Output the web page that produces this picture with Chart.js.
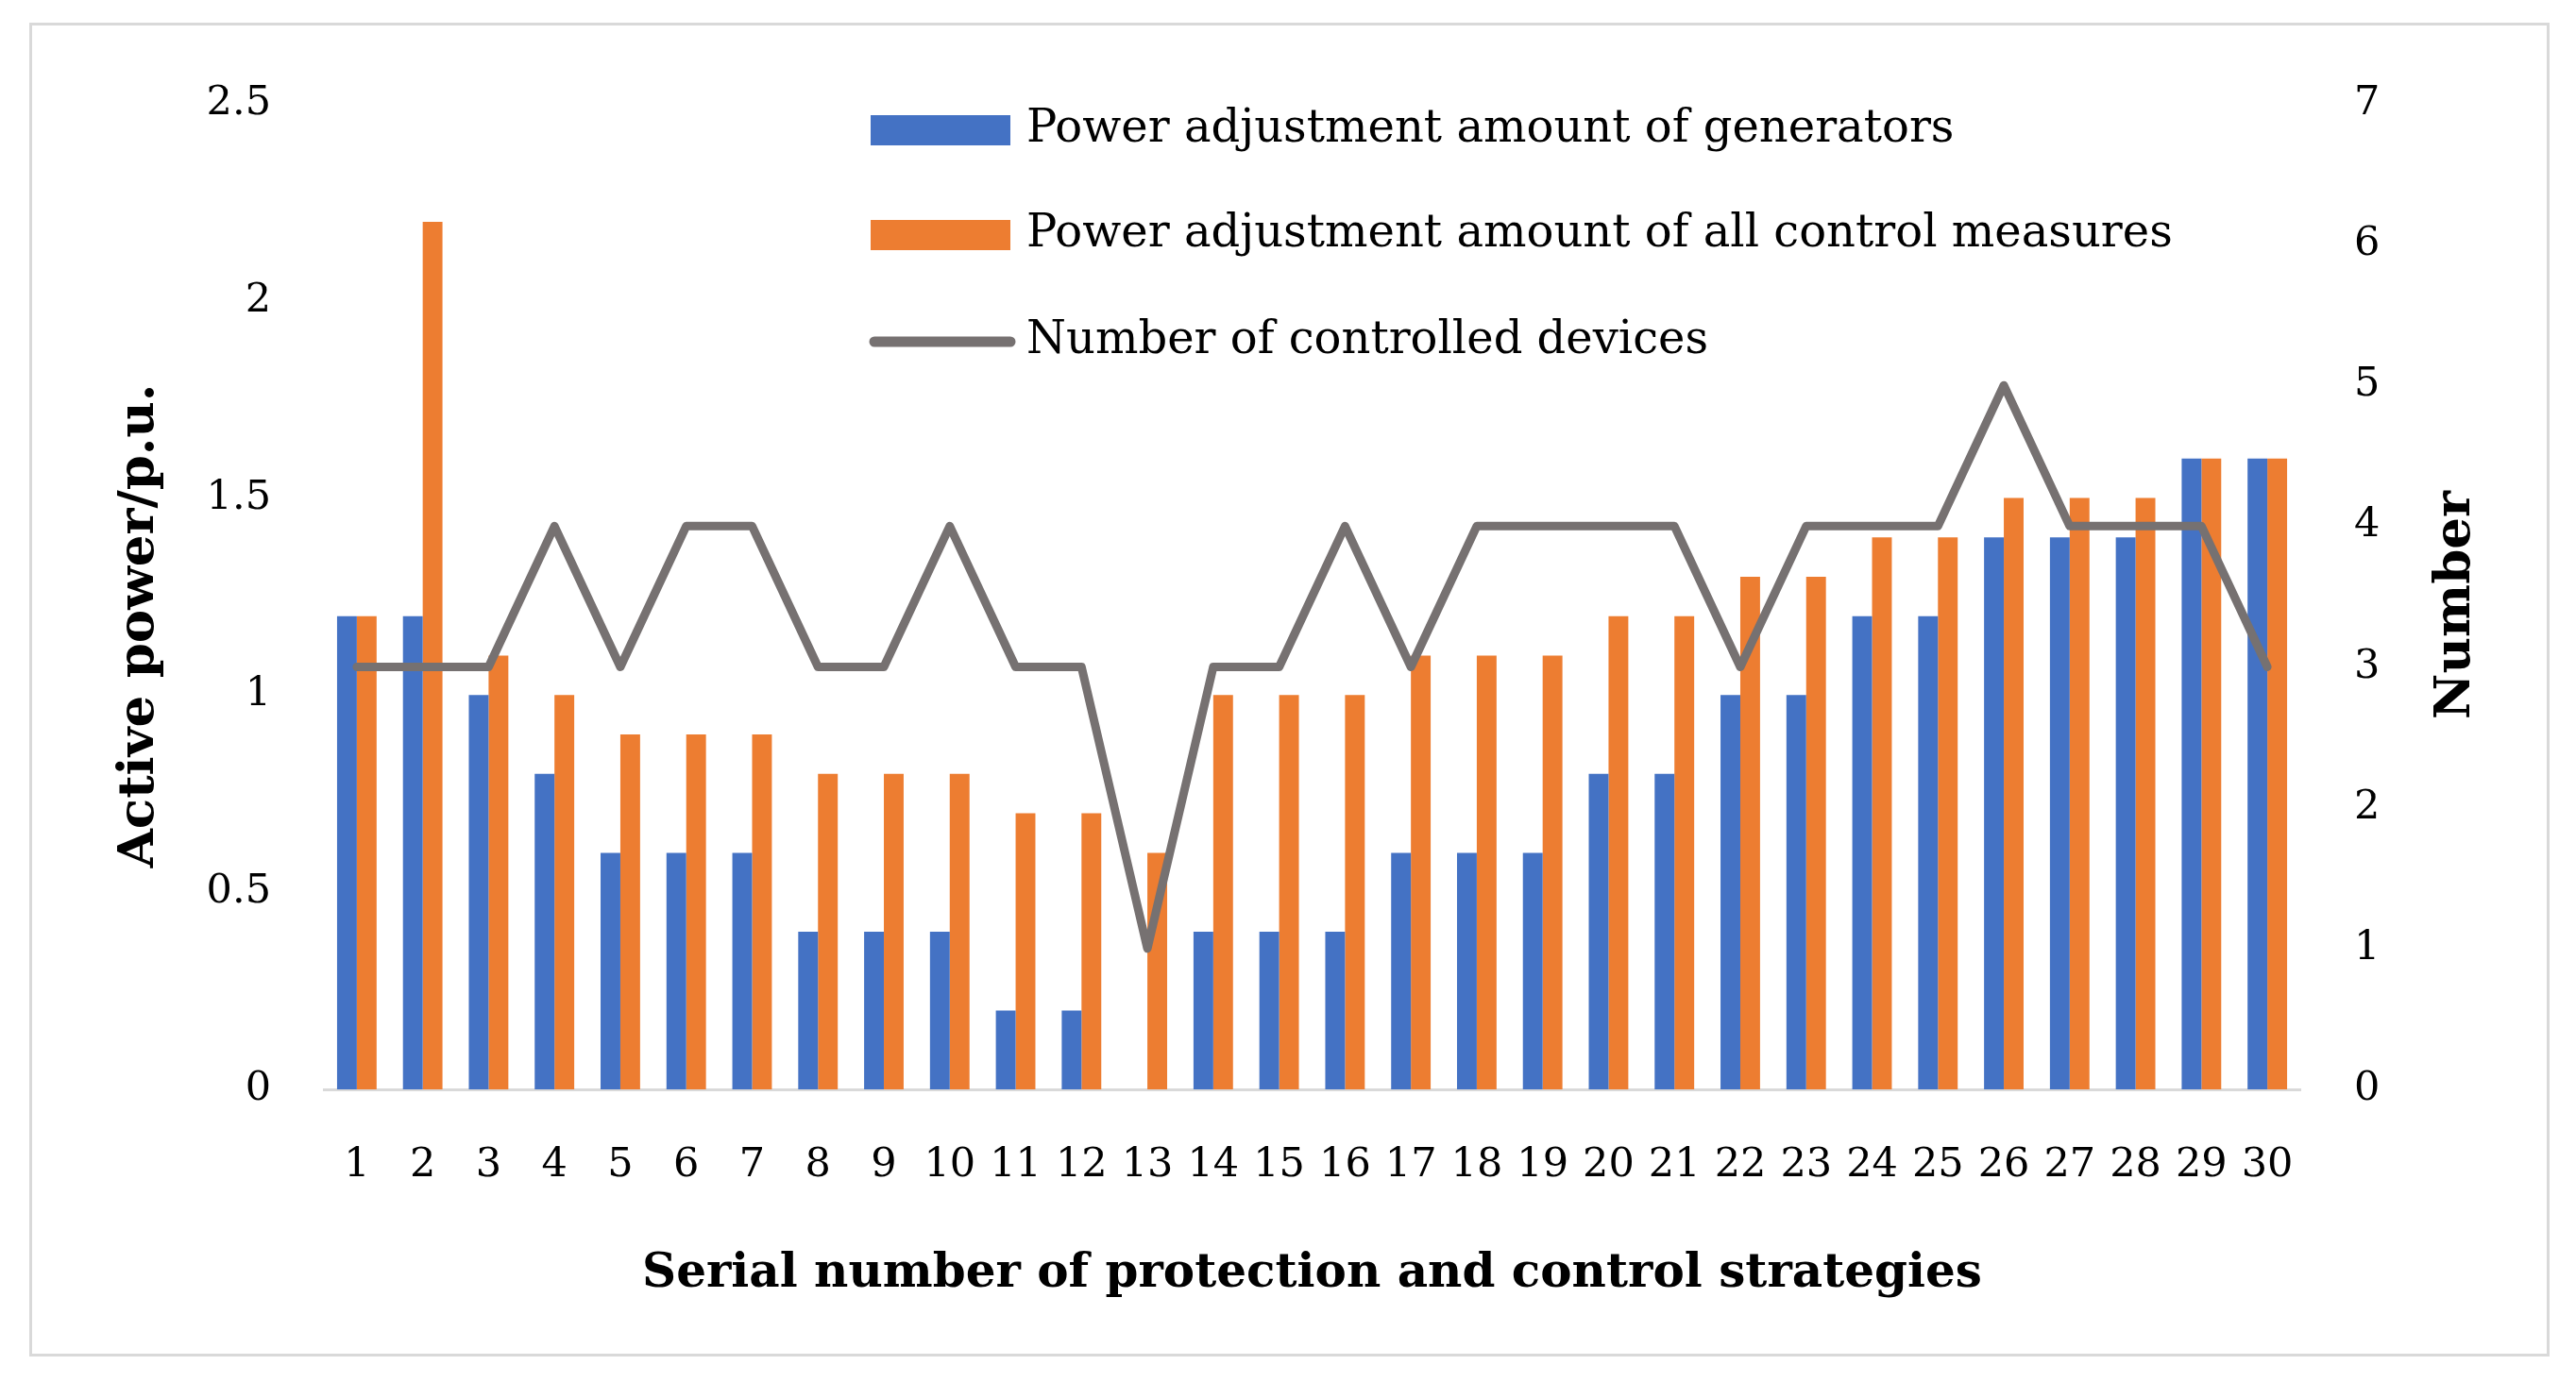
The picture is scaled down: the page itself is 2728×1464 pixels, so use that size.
<!DOCTYPE html>
<html>
<head>
<meta charset="utf-8">
<script src="https://cdn.jsdelivr.net/npm/chart.js@4.4.1/dist/chart.umd.min.js"></script>
<style>
    body { margin: 0; background: #ffffff; }
    #frame {
        position: absolute;
        left: 31px;
        top: 24px;
        width: 2663px;
        height: 1407px;
        border: 3px solid #d9d9d9;
        background: #ffffff;
    }
</style>
</head>
<body>
<div id="frame"><canvas id="strategyChart"></canvas></div>
<script>
// data
const strategies = ['1', '2', '3', '4', '5', '6', '7', '8', '9', '10',
    '11', '12', '13', '14', '15', '16', '17', '18', '19', '20',
    '21', '22', '23', '24', '25', '26', '27', '28', '29', '30'];
const generatorPower = [1.2, 1.2, 1.0, 0.8, 0.6, 0.6, 0.6, 0.4, 0.4, 0.4,
    0.2, 0.2, 0, 0.4, 0.4, 0.4, 0.6, 0.6, 0.6, 0.8,
    0.8, 1.0, 1.0, 1.2, 1.2, 1.4, 1.4, 1.4, 1.6, 1.6];
const allMeasuresPower = [1.2, 2.2, 1.1, 1.0, 0.9, 0.9, 0.9, 0.8, 0.8, 0.8,
    0.7, 0.7, 0.6, 1.0, 1.0, 1.0, 1.1, 1.1, 1.1, 1.2,
    1.2, 1.3, 1.3, 1.4, 1.4, 1.5, 1.5, 1.5, 1.6, 1.6];
const controlledDevices = [3, 3, 3, 4, 3, 4, 4, 3, 3, 4,
    3, 3, 1, 3, 3, 4, 3, 4, 4, 4,
    4, 3, 4, 4, 4, 5, 4, 4, 4, 3];
const powerTicks = [0, 0.5, 1, 1.5, 2, 2.5];
const numberTicks = [0, 1, 2, 3, 4, 5, 6, 7];

const FONT = "'DejaVu Serif', serif";

// legend drawn inside the plot, plus both vertical axis titles
const insideLegend = {
    id: 'insideLegend',
    afterDraw(chart) {
        const ctx = chart.ctx;
        const rows = [111, 222, 335];
        ctx.save();
        ctx.font = '48px ' + FONT;
        ctx.textBaseline = 'middle';
        ctx.textAlign = 'left';
        chart.data.datasets.forEach((ds, i) => {
            const y = rows[i];
            if (ds.type === 'line') {
                ctx.strokeStyle = ds.borderColor;
                ctx.lineWidth = 11;
                ctx.lineCap = 'round';
                ctx.beginPath();
                ctx.moveTo(892, y);
                ctx.lineTo(1036, y);
                ctx.stroke();
            } else {
                ctx.fillStyle = ds.backgroundColor;
                ctx.fillRect(888, y - 16, 148, 32);
            }
            ctx.fillStyle = '#000000';
            ctx.fillText(ds.label, 1053, y);
        });
        ctx.restore();

        ctx.save();
        ctx.fillStyle = '#000000';
        ctx.textAlign = 'center';
        ctx.textBaseline = 'middle';
        ctx.font = 'bold 53px ' + FONT;
        ctx.translate(114, 636);
        ctx.rotate(-Math.PI / 2);
        ctx.fillText('Active power/p.u.', 0, 0);
        ctx.restore();

        ctx.save();
        ctx.fillStyle = '#000000';
        ctx.textAlign = 'center';
        ctx.textBaseline = 'middle';
        ctx.font = 'bold 53px ' + FONT;
        ctx.translate(2567, 614);
        ctx.rotate(-Math.PI / 2);
        ctx.fillText('Number', 0, 0);
        ctx.restore();
    }
};

const ctx = document.getElementById('strategyChart').getContext('2d');
const strategyChart = new Chart(ctx, {
    type: 'bar',
    data: {
        labels: strategies,
        datasets: [{
            label: 'Power adjustment amount of generators',
            data: generatorPower,
            backgroundColor: '#4472c4',
            yAxisID: 'y',
            order: 1
        }, {
            label: 'Power adjustment amount of all control measures',
            data: allMeasuresPower,
            backgroundColor: '#ed7d31',
            yAxisID: 'y',
            order: 1
        }, {
            type: 'line',
            label: 'Number of controlled devices',
            data: controlledDevices,
            borderColor: '#767171',
            borderWidth: 9,
            borderJoinStyle: 'round',
            borderCapStyle: 'round',
            pointRadius: 0,
            tension: 0,
            yAxisID: 'y1',
            order: 0
        }]
    },
    options: {
        responsive: true,
        maintainAspectRatio: false,
        animation: false,
        layout: { padding: { top: 69, left: 0, right: 0, bottom: 0 } },
        datasets: {
            bar: { categoryPercentage: 0.6, barPercentage: 1.0 }
        },
        plugins: {
            legend: { display: false },
            tooltip: { enabled: false }
        },
        scales: {
            x: {
                grid: { display: false, drawTicks: false },
                border: { display: true, color: '#d9d9d9', width: 3 },
                ticks: { color: '#000000', font: { family: FONT, size: 43 }, padding: 55, maxRotation: 0, autoSkip: false },
                title: {
                    display: true,
                    text: 'Serial number of protection and control strategies',
                    color: '#000000',
                    font: { family: FONT, size: 50, weight: 'bold' },
                    padding: { top: 0, bottom: 54 }
                },
                afterFit: s => { s.height = 280; }
            },
            y: {
                position: 'left',
                min: 0,
                max: 2.5,
                grid: { display: false, drawTicks: false },
                border: { display: false },
                ticks: {
                    color: '#000000',
                    font: { family: FONT, size: 43 },
                    padding: 56,
                    callback: v => String(v)
                },
                afterBuildTicks: s => { s.ticks = powerTicks.map(v => ({ value: v })); },
                afterFit: s => { s.width = 309; }
            },
            y1: {
                position: 'right',
                min: 0,
                max: 7,
                grid: { display: false, drawTicks: false },
                border: { display: false },
                ticks: { color: '#000000', font: { family: FONT, size: 43 }, padding: 57 },
                afterBuildTicks: s => { s.ticks = numberTicks.map(v => ({ value: v })); },
                afterFit: s => { s.width = 261; }
            }
        }
    },
    plugins: [insideLegend]
});
</script>
</body>
</html>
